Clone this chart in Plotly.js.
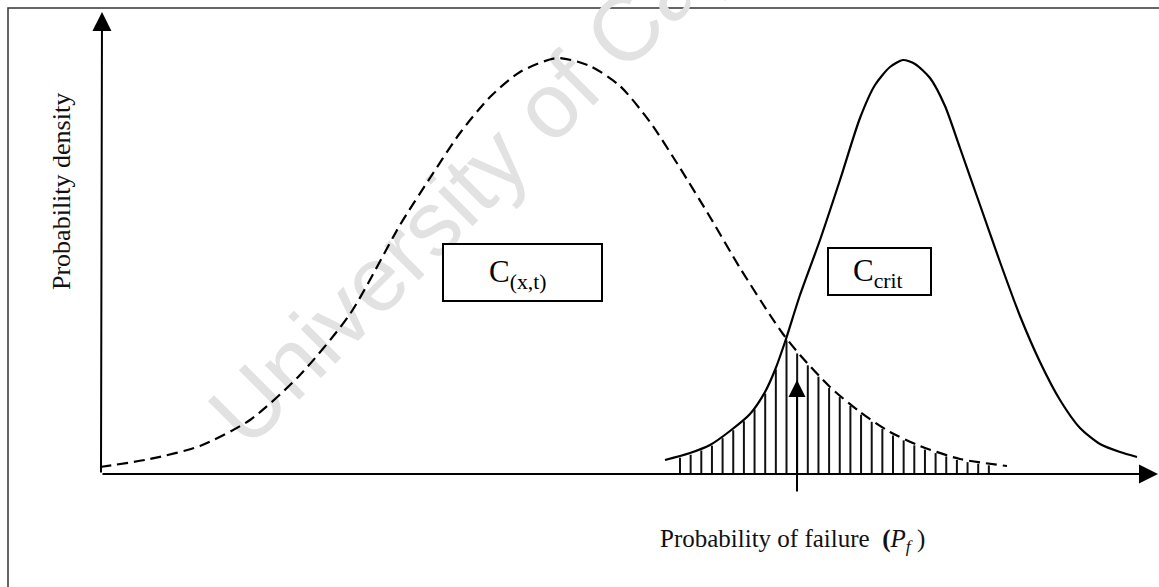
<!DOCTYPE html>
<html>
<head>
<meta charset="utf-8">
<script src="https://cdn.plot.ly/plotly-3.0.1.min.js"></script>
<style>html,body{margin:0;padding:0;background:#fff;}#chart{width:1159px;height:587px;}</style>
</head>
<body>
<div id="chart"></div>
<script>
// Dashed curve: C(x,t) distribution
const dashX = [-0.1,4.9,9.9,14.9,19.9,24.9,29.9,32.9,35.9,38.9,41.9,45.6,48.9,51.9,54.9,57.9,60.9,63.9,66.9,68.2,69.9,72.9,75.9,78.9,81.9,85.9,90.6];
const dashY = [0.7,1.5,2.8,5.4,9.9,16.0,24.9,29.6,34.1,37.7,40.2,41.6,40.8,38.8,35.2,30.6,25.7,20.6,15.9,14.0,11.9,8.7,6.2,4.2,2.8,1.5,0.8];
// Solid curve: C_crit distribution
const solX = [56.4,58.9,60.9,62.9,64.9,66.4,67.4,68.4,69.9,71.9,73.9,75.9,77.4,78.9,80.2,81.4,82.9,84.4,85.9,87.9,89.9,91.9,93.9,95.9,97.9,99.9,101.9,103.6];
const solY = [1.4,2.1,2.9,4.3,6.0,8.2,10.4,13.2,17.9,23.4,29.4,35.6,38.9,40.7,41.4,41.0,39.6,36.8,32.6,26.9,21.2,15.8,11.2,7.4,4.6,3.0,2.2,1.7];
// Hatched overlap region (probability of failure)
const hatchStart = 57.9, hatchEnd = 88.8, hatchStep = 1.065;
const pfX = 69.6;
const labels = {
  yTitle: 'Probability density',
  xTitle: 'Probability of failure  <b>(</b><i>P<sub>f</sub></i> )',
  c1: 'C<sub>(x,t)</sub>',
  c2: 'C<sub>crit</sub>',
  watermark: 'University of Cape Town'
};

function interp(xs, ys, x) {
  if (x <= xs[0]) return ys[0];
  for (let i = 1; i < xs.length; i++) {
    if (x <= xs[i]) {
      const t = (x - xs[i-1]) / (xs[i] - xs[i-1]);
      return ys[i-1] + t * (ys[i] - ys[i-1]);
    }
  }
  return ys[ys.length-1];
}

const hx = [], hy = [];
for (let x = hatchStart; x <= hatchEnd + 1e-9; x += hatchStep) {
  const top = Math.min(interp(solX, solY, x), interp(dashX, dashY, x)) - 0.2;
  if (top <= 0) continue;
  hx.push(x, x, null);
  hy.push(0, top, null);
}

const serif = 'Liberation Serif, Times New Roman, serif';

const traces = [
  {x: hx, y: hy, mode: 'lines', line: {color: '#111', width: 2}, hoverinfo: 'skip'},
  {x: dashX, y: dashY, mode: 'lines', line: {color: '#000', width: 2.2, dash: '11px,6px', shape: 'spline', smoothing: 0.7}},
  {x: solX, y: solY, mode: 'lines', line: {color: '#000', width: 2.2, shape: 'spline', smoothing: 0.7}}
];

const layout = {
  width: 1159, height: 587,
  margin: {l: 0, r: 0, t: 0, b: 0, pad: 0},
  paper_bgcolor: '#fff', plot_bgcolor: '#fff',
  showlegend: false,
  xaxis: {range: [-10.1, 105.8], visible: false, fixedrange: true},
  yaxis: {range: [-11.3, 47.4], visible: false, fixedrange: true},
  shapes: [
    {type: 'rect', xref: 'paper', yref: 'paper', x0: 8/1159, x1: 1.02, y0: -0.02, y1: 1 - 8/587,
     line: {color: '#333', width: 1.5}, layer: 'below'},
    {type: 'rect', xref: 'x', yref: 'y', x0: 45.8, x1: 47.8, y0: 39.2, y1: 41.2,
     line: {width: 0, color: 'rgba(0,0,0,0)'}, fillcolor: 'rgba(0,0,0,0)', layer: 'below',
     label: {text: labels.watermark, textangle: -45, textposition: 'middle center',
             font: {family: 'Liberation Sans, Arial, sans-serif', size: 92, color: '#e2e2e2'}}},
    {type: 'rect', xref: 'x', yref: 'y', x0: 34.2, x1: 50.1, y0: 17.3, y1: 23.0,
     line: {color: '#000', width: 2}, fillcolor: '#fff'},
    {type: 'rect', xref: 'x', yref: 'y', x0: 72.7, x1: 83.0, y0: 17.9, y1: 22.6,
     line: {color: '#000', width: 2}, fillcolor: '#fff'}
  ],
  annotations: [
    // axes arrows
    {x: 0.1, y: 46.2, ax: 0, ay: 0, axref: 'x', ayref: 'y', xref: 'x', yref: 'y', text: '',
     showarrow: true, arrowhead: 2, arrowsize: 1.9, arrowwidth: 2, arrowcolor: '#000', standoff: 0},
    {x: 105.7, y: 0, ax: 0, ay: 0, axref: 'x', ayref: 'y', xref: 'x', yref: 'y', text: '',
     showarrow: true, arrowhead: 2, arrowsize: 1.9, arrowwidth: 2, arrowcolor: '#000', standoff: 0},
    // Pf arrow
    {x: pfX, y: 9.4, ax: pfX, ay: -1.9, axref: 'x', ayref: 'y', xref: 'x', yref: 'y', text: '',
     showarrow: true, arrowhead: 2, arrowsize: 1.7, arrowwidth: 2, arrowcolor: '#000', standoff: 0},
    // labels
    {x: -4.0, y: 28.2, xref: 'x', yref: 'y', text: labels.yTitle, textangle: -90, showarrow: false,
     font: {family: serif, size: 26, color: '#111'}},
    {x: 55.7, y: -6.6, xref: 'x', yref: 'y', xanchor: 'left', text: labels.xTitle, showarrow: false,
     font: {family: serif, size: 25, color: '#111'}},
    {x: 41.6, y: 20.0, xref: 'x', yref: 'y', text: labels.c1, showarrow: false,
     font: {family: serif, size: 31, color: '#000'}},
    {x: 77.7, y: 20.1, xref: 'x', yref: 'y', text: labels.c2, showarrow: false,
     font: {family: serif, size: 31, color: '#000'}}
  ]
};

Plotly.newPlot('chart', traces, layout, {staticPlot: true, displayModeBar: false});
</script>
</body>
</html>
